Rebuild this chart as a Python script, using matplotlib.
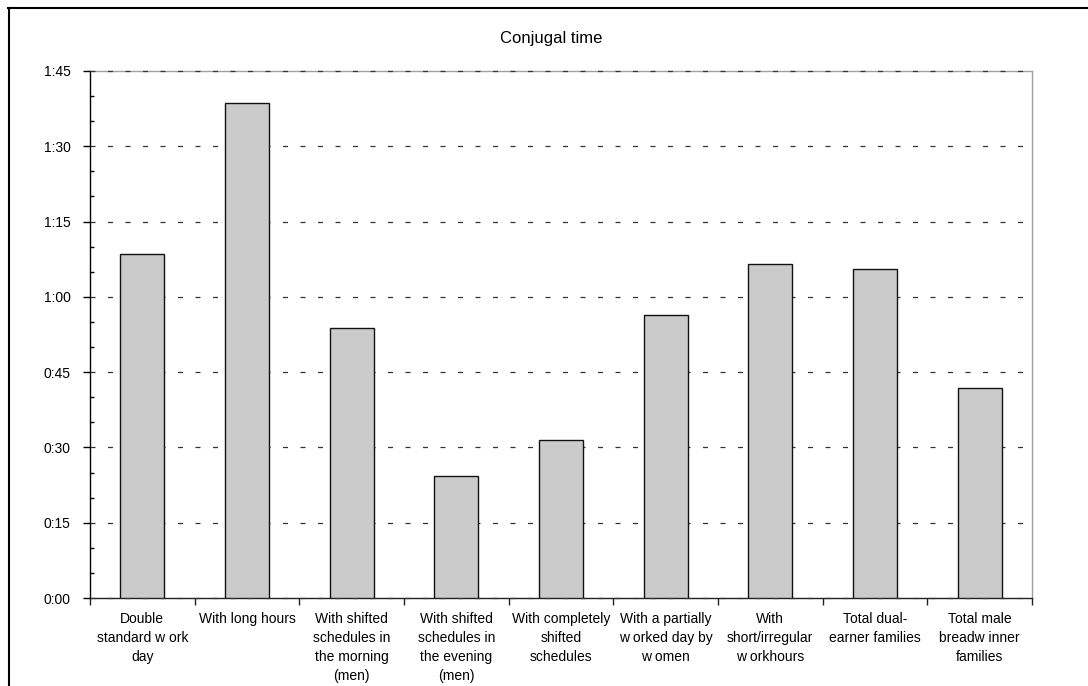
import matplotlib
matplotlib.use("Agg")
import matplotlib.pyplot as plt
from matplotlib.ticker import FixedLocator, FuncFormatter, MultipleLocator
from matplotlib.lines import Line2D

plt.rcParams['font.family'] = ['Liberation Sans', 'DejaVu Sans']

categories = [
    "Double\nstandard w ork\nday",
    "With long hours",
    "With shifted\nschedules in\nthe morning\n(men)",
    "With shifted\nschedules in\nthe evening\n(men)",
    "With completely\nshifted\nschedules",
    "With a partially\nw orked day by\nw omen",
    "With\nshort/irregular\nw orkhours",
    "Total dual-\nearner families",
    "Total male\nbreadw inner\nfamilies",
]
# conjugal time in minutes
minutes = [68.5, 98.6, 53.7, 24.3, 31.5, 56.4, 66.6, 65.6, 41.9]
title = "Conjugal time"

fig = plt.figure(figsize=(10.88, 6.86), dpi=100)
ax = fig.add_axes([90/1088, 1-598/686, (1032-90)/1088, (598-71)/686])

x = list(range(len(categories)))
ax.bar(x, minutes, width=0.42, color='#cbcbcb', edgecolor='#111111', linewidth=1.0, zorder=3)

ax.set_xlim(-0.5, len(categories) - 0.5)
ax.set_ylim(0, 105)

# y axis
ax.yaxis.set_major_locator(MultipleLocator(15))
ax.yaxis.set_minor_locator(MultipleLocator(5))
ax.yaxis.set_major_formatter(FuncFormatter(lambda v, p: f"{int(v)//60}:{int(v)%60:02d}"))
ax.tick_params(axis='y', which='major', direction='out', length=5, width=1, pad=9,
               labelsize=10, color='black')
ax.tick_params(axis='y', which='minor', direction='in', length=3, width=1, color='black')

# x axis: tick marks at category boundaries, labels at centers
ax.xaxis.set_major_locator(FixedLocator([i - 0.5 for i in range(len(categories) + 1)]))
ax.xaxis.set_major_formatter(FuncFormatter(lambda v, p: ""))
ax.xaxis.set_minor_locator(FixedLocator(x))
ax.set_xticklabels(categories, minor=True, fontsize=10, linespacing=1.45, va='top')
ax.tick_params(axis='x', which='major', direction='out', length=5, width=1, color='#222222')
ax.tick_params(axis='x', which='minor', length=0, pad=10)

for s in ['top', 'right']:
    ax.spines[s].set_color('#a0a0a0')
    ax.spines[s].set_linewidth(1.0)
ax.spines['left'].set_color('black')
ax.spines['bottom'].set_color('#222222')
ax.spines['left'].set_linewidth(1.0)
ax.spines['bottom'].set_linewidth(1.0)

# grid (drawn above the top spine, below the bars)
ax.yaxis.grid(True, which='major', color='#333333', linewidth=0.9,
              linestyle=(0, (4.0, 10.0)))
ax.set_axisbelow(False)
for gl in ax.yaxis.get_gridlines():
    gl.set_zorder(2.6)
    gl.set_clip_on(False)

fig.text(551/1088, 1-39/686, title, ha='center', va='center', fontsize=12)

# outer chart border (top and left visible)
fig.add_artist(Line2D([8/1088, 1.0], [1-7.5/686, 1-7.5/686], color='black', linewidth=1.5,
                      transform=fig.transFigure))
fig.add_artist(Line2D([8.5/1088, 8.5/1088], [0.0, 1-7.5/686], color='black', linewidth=1.5,
                      transform=fig.transFigure))

fig.savefig("out.png", dpi=100)
